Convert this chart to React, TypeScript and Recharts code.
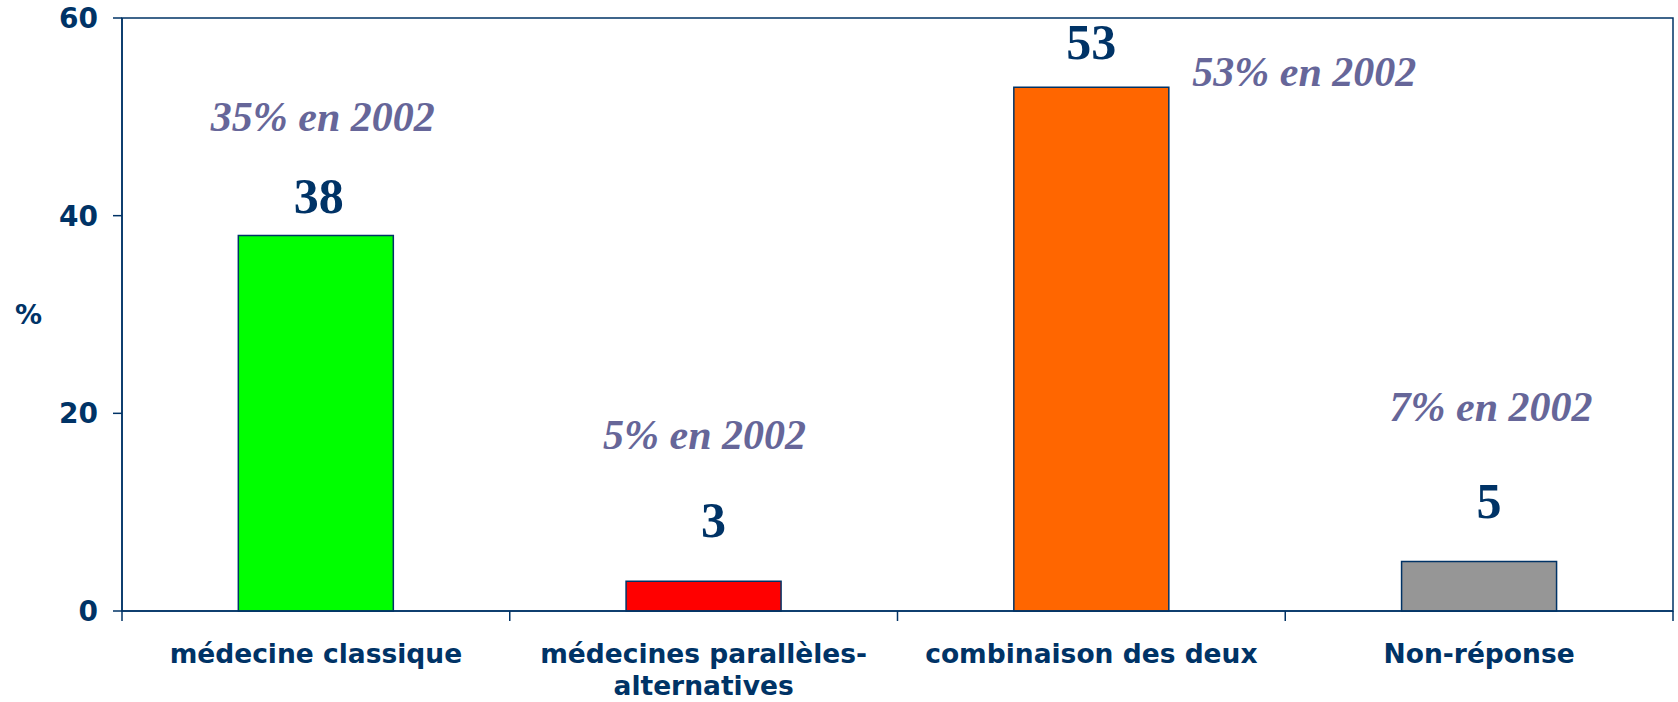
import React from 'react';
import { BarChart, Bar, XAxis, YAxis, Cell, LabelList, ReferenceArea } from 'recharts';

// catégories et valeurs
const categories = ['médecine classique', 'médecines parallèles-\nalternatives', 'combinaison des deux', 'Non-réponse'];
const shares = [38, 3, 53, 5];
const shares2002 = [35, 5, 53, 7];
const barColors = ['#00FF00', '#FF0000', '#FF6600', '#969696'];
const yTicks = [0, 20, 40, 60];

// décalages des étiquettes par rapport au haut de chaque barre (placées à la main sur l'original)
const valueOffsets = [[3, -22], [10, -44], [0, -28], [10, -44]];
const noteOffsets = [[7, -104], [1, -132], [213, -1], [12, -141]];

const NAVY = '#003366';
const NOTE = '#666699';
const SANS = 'Verdana, "DejaVu Sans", sans-serif';
const SERIF = '"Liberation Serif", "Times New Roman", serif';

const data = categories.map((name, i) => ({ name, value: shares[i], old: shares2002[i] }));

const CategoryTick = (props: any) => {
  const { x, y, payload, index, visibleTicksCount } = props;
  const half = payload.offset || 0;
  const lines = String(payload.value).split('\n');
  return (
    <g>
      <line x1={x - half} y1={y} x2={x - half} y2={y + 10} stroke={NAVY} strokeWidth={1.5} />
      {index === visibleTicksCount - 1 && (
        <line x1={x + half} y1={y} x2={x + half} y2={y + 10} stroke={NAVY} strokeWidth={1.5} />
      )}
      {lines.map((l, i) => (
        <text key={i} x={x} y={y + 52 + i * 32} textAnchor="middle" fill={NAVY} fontSize={26.5} fontWeight="bold" fontFamily={SANS}>
          {l}
        </text>
      ))}
    </g>
  );
};

const renderValue = (props: any) => {
  const { x, y, width, value, index } = props;
  const [dx, dy] = valueOffsets[index];
  return (
    <text x={x + width / 2 + dx} y={y + dy} textAnchor="middle" fill={NAVY} fontSize={50} fontWeight="bold" fontFamily={SERIF}>
      {value}
    </text>
  );
};

const renderNote = (props: any) => {
  const { x, y, width, value, index } = props;
  const [dx, dy] = noteOffsets[index];
  return (
    <text x={x + width / 2 + dx} y={y + dy} textAnchor="middle" fill={NOTE} fontSize={42} fontWeight="bold" fontStyle="italic" fontFamily={SERIF}>
      {`${value}% en 2002`}
    </text>
  );
};

export default function App() {
  return (
    <div style={{ position: 'absolute', left: 0, top: 0, background: '#fff' }}>
      <BarChart width={1678} height={702} data={data} margin={{ top: 18, right: 5, bottom: 0, left: 0 }} barCategoryGap="30%">
        <ReferenceArea y1={0} y2={60} fill="none" stroke={NAVY} strokeWidth={1.5} />
        <XAxis
          dataKey="name"
          height={91}
          axisLine={{ stroke: NAVY, strokeWidth: 1.5 }}
          tickLine={false}
          tickSize={0}
          tickMargin={0}
          interval={0}
          tick={<CategoryTick />}
        />
        <YAxis
          width={122}
          domain={[0, 60]}
          ticks={yTicks}
          axisLine={{ stroke: NAVY, strokeWidth: 1.5 }}
          tickLine={{ stroke: NAVY, strokeWidth: 1.5 }}
          tickSize={9}
          tickMargin={15}
          tick={{ fill: NAVY, fontSize: 28, fontWeight: 'bold', fontFamily: SANS }}
          label={{ value: '%', position: 'insideLeft', offset: 15, fill: NAVY, fontSize: 27, fontWeight: 'bold', fontFamily: SANS }}
        />
        <Bar dataKey="value" stroke={NAVY} strokeWidth={1.5} isAnimationActive={false}>
          {data.map((d, i) => (
            <Cell key={d.name} fill={barColors[i]} />
          ))}
          <LabelList dataKey="value" content={renderValue} />
          <LabelList dataKey="old" content={renderNote} />
        </Bar>
      </BarChart>
    </div>
  );
}
